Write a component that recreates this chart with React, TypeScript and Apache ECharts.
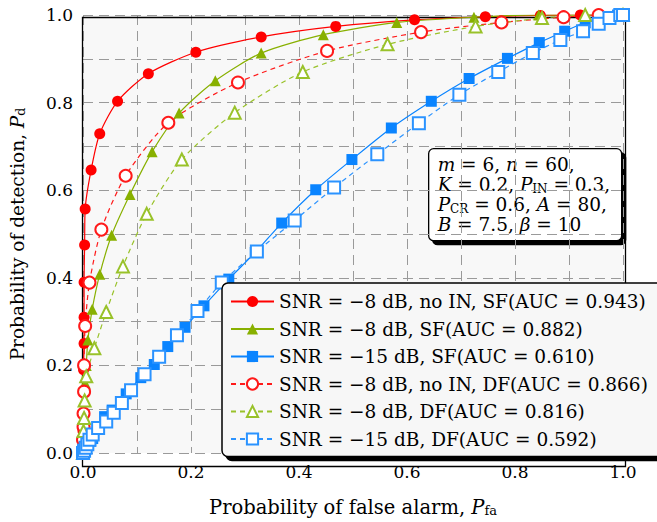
import React, { useEffect, useRef } from "react";
import * as echarts from "echarts";

const SERIF = "DejaVu Serif";

const seriesNames = [
  "SNR = \u22128 dB, no IN, SF(AUC = 0.943)",
  "SNR = \u22128 dB, SF(AUC = 0.882)",
  "SNR = \u221215 dB, SF(AUC = 0.610)",
  "SNR = \u22128 dB, no IN, DF(AUC = 0.866)",
  "SNR = \u22128 dB, DF(AUC = 0.816)",
  "SNR = \u221215 dB, DF(AUC = 0.592)",
];

const redSF = [
  [0, 0], [0, 0.02], [0, 0.05], [0.001, 0.09], [0.001, 0.14], [0.001, 0.19],
  [0.002, 0.25], [0.002, 0.31], [0.002, 0.39], [0.003, 0.475], [0.004, 0.557],
  [0.015, 0.646], [0.031, 0.729], [0.064, 0.803], [0.121, 0.866], [0.209, 0.915],
  [0.33, 0.95], [0.468, 0.974], [0.614, 0.989], [0.745, 0.996], [0.847, 0.999],
  [0.921, 1.0], [1, 1],
];
const greenSF = [
  [0, 0], [0.001, 0.02], [0.002, 0.05], [0.002, 0.08], [0.003, 0.12], [0.004, 0.16],
  [0.006, 0.2], [0.009, 0.258], [0.017, 0.328], [0.031, 0.408], [0.053, 0.497],
  [0.087, 0.59], [0.128, 0.688], [0.178, 0.776], [0.245, 0.85], [0.33, 0.913],
  [0.445, 0.955], [0.581, 0.983], [0.724, 0.995], [0.844, 1.0], [0.93, 1.0], [1, 1],
];
const blueSF = [
  [0, 0], [0.003, 0.005], [0.006, 0.012], [0.01, 0.02], [0.014, 0.027], [0.018, 0.033],
  [0.03, 0.058], [0.04, 0.083], [0.054, 0.098], [0.08, 0.135], [0.107, 0.172],
  [0.132, 0.202], [0.157, 0.243], [0.189, 0.287], [0.224, 0.336], [0.27, 0.397],
  [0.319, 0.458], [0.368, 0.525], [0.431, 0.601], [0.498, 0.67], [0.571, 0.742],
  [0.645, 0.803], [0.715, 0.855], [0.786, 0.901], [0.845, 0.937], [0.892, 0.963],
  [0.93, 0.983], [0.963, 0.995], [0.99, 1.0], [1, 1],
];
const redDF = [
  [0, 0], [0, 0.03], [0.001, 0.06], [0.001, 0.09], [0.002, 0.14], [0.002, 0.2],
  [0.004, 0.29], [0.012, 0.389], [0.034, 0.51], [0.079, 0.633], [0.158, 0.754],
  [0.287, 0.846], [0.452, 0.918], [0.626, 0.961], [0.775, 0.983], [0.89, 0.995],
  [0.955, 1.0], [1, 1],
];
const greenDF = [
  [0, 0], [0.001, 0.02], [0.001, 0.05], [0.002, 0.08], [0.003, 0.12], [0.006, 0.175],
  [0.021, 0.239], [0.043, 0.322], [0.074, 0.426], [0.118, 0.546], [0.183, 0.67],
  [0.281, 0.777], [0.407, 0.87], [0.564, 0.933], [0.727, 0.974], [0.85, 0.993],
  [0.93, 1.0], [1, 1],
];
const blueDF = [
  [0, 0], [0.002, 0.005], [0.005, 0.012], [0.008, 0.02], [0.012, 0.03], [0.018, 0.042],
  [0.028, 0.057], [0.043, 0.072], [0.057, 0.092], [0.072, 0.114], [0.089, 0.143],
  [0.114, 0.18], [0.141, 0.22], [0.174, 0.269], [0.212, 0.324], [0.257, 0.389],
  [0.322, 0.46], [0.392, 0.531], [0.465, 0.606], [0.545, 0.682], [0.622, 0.753],
  [0.697, 0.818], [0.769, 0.87], [0.833, 0.913], [0.884, 0.943], [0.926, 0.963],
  [0.955, 0.98], [0.975, 0.993], [0.995, 1.0], [1, 1],
];

const seriesData = [redSF, greenSF, blueSF, redDF, greenDF, blueDF];
const seriesColors = ["#ff0000", "#88b000", "#0a84ff", "#ff1a1a", "#99c22a", "#2b93ff"];
const seriesSymbols = ["circle", "triangle", "rect", "emptyCircle", "emptyTriangle", "emptyRect"];
const seriesDashed = [false, false, false, true, true, true];

const annotationLines = [
  "{i|m} = 6, {i|n} = 60,",
  "{i|K} = 0.2, {i|P}{s|IN} = 0.3,",
  "{i|P}{s|CR} = 0.6, {i|A} = 80,",
  "{i|B} = 7.5, {i|β} = 10",
];

export default function App() {
  const ref = useRef<HTMLDivElement>(null);
  useEffect(() => {
    const chart = echarts.init(ref.current!, null, { renderer: "svg" });
    const baseText = { fontFamily: SERIF, color: "#000" };
    const richX = {
      t: { fontFamily: SERIF, fontSize: 19.5, color: "#000" },
      i: { fontFamily: SERIF, fontStyle: "italic", fontSize: 19.5, color: "#000" },
      s: { fontFamily: SERIF, fontSize: 13, color: "#000", verticalAlign: "bottom", lineHeight: 12 },
    };
    const richY = {
      t: { fontFamily: SERIF, fontSize: 18.5, color: "#000" },
      i: { fontFamily: SERIF, fontStyle: "italic", fontSize: 18.5, color: "#000" },
      s: { fontFamily: SERIF, fontSize: 12.5, color: "#000", verticalAlign: "bottom", lineHeight: 12 },
    };
    const tickFmt = (v: number) => (Math.round(v * 10) % 2 === 0 ? v.toFixed(1) : "");
    chart.setOption({
      animation: false,
      backgroundColor: "#fff",
      grid: {
        show: true,
        left: 80,
        top: 15,
        right: 34,
        bottom: 58,
        backgroundColor: "#f8f8f8",
        borderWidth: 0,
      },
      xAxis: {
        type: "value",
        min: 0,
        max: 1,
        interval: 0.1,
        axisLine: { show: false },
        axisTick: { show: false },
        splitLine: { show: true, lineStyle: { color: "#9a9a9a", width: 1, type: [10, 6] } },
        axisLabel: { ...baseText, fontSize: 17, margin: 10, formatter: tickFmt },
        name: "{t|Probability of false alarm, }{i|P}{s|fa}",
        nameLocation: "middle",
        nameGap: 44,
        nameTextStyle: { ...baseText, fontSize: 19.5, rich: richX },
      },
      yAxis: {
        type: "value",
        min: 0,
        max: 1,
        interval: 0.1,
        axisLine: { show: false },
        axisTick: { show: false },
        splitLine: { show: true, lineStyle: { color: "#9a9a9a", width: 1, type: [10, 6] } },
        axisLabel: { ...baseText, fontSize: 17, margin: 10, formatter: tickFmt },
        name: "{t|Probability of detection, }{i|P}{s|d}",
        nameLocation: "middle",
        nameGap: 56,
        nameRotate: 90,
        nameTextStyle: { ...baseText, fontSize: 18.5, rich: richY },
      },
      legend: {
        orient: "vertical",
        left: 222,
        top: 283,
        padding: [9, 16, 8, 8],
        itemGap: 8.5,
        itemWidth: 43,
        itemHeight: 14,
        backgroundColor: "#f7f7f7",
        borderColor: "#000",
        borderWidth: 1.5,
        borderRadius: 6,
        shadowColor: "#000",
        shadowBlur: 0,
        shadowOffsetX: 4,
        shadowOffsetY: 4,
        textStyle: { ...baseText, fontSize: 18.5 },
        data: seriesNames,
      },
      graphic: [
        {
          type: "rect",
          left: 80,
          top: 15,
          z: 1,
          shape: { width: 543, height: 449 },
          style: { fill: "none", stroke: "#000", lineWidth: 1.3 },
          silent: true,
        },
        {
          type: "group",
          left: 428,
          top: 148,
          z: 10,
          children: [
            {
              type: "rect",
              shape: { x: 0, y: 0, width: 193, height: 92, r: 5 },
              style: {
                fill: "#fff",
                stroke: "#000",
                lineWidth: 1.3,
                shadowColor: "#000",
                shadowBlur: 0,
                shadowOffsetX: 4,
                shadowOffsetY: 4,
              },
            },
            {
              type: "text",
              x: 9,
              y: 6,
              style: {
                text: annotationLines.join("\n"),
                fontFamily: SERIF,
                fontSize: 18.5,
                lineHeight: 20,
                fill: "#000",
                rich: {
                  i: { fontFamily: SERIF, fontStyle: "italic", fontSize: 18.5, lineHeight: 20 },
                  s: { fontFamily: SERIF, fontSize: 12, verticalAlign: "bottom", lineHeight: 12 },
                },
              },
            },
          ],
        },
      ],
      series: seriesNames.map((name, k) => ({
        name,
        type: "line",
        data: seriesData[k],
        smooth: 0.25,
        symbol: seriesSymbols[k],
        symbolSize: seriesDashed[k] ? 12 : 11,
        showAllSymbol: true,
        color: seriesColors[k],
        lineStyle: { width: 1.2, type: seriesDashed[k] ? [5, 4] : "solid", color: seriesColors[k] },
        itemStyle: { color: seriesColors[k], borderWidth: seriesDashed[k] ? 1.3 : 0 },
        emphasis: { disabled: true },
        z: 2,
      })),
    });
    return () => chart.dispose();
  }, []);
  return (
    <div
      ref={ref}
      style={{ position: "fixed", left: 0, top: 0, width: 657, height: 522, background: "#fff" }}
    />
  );
}
